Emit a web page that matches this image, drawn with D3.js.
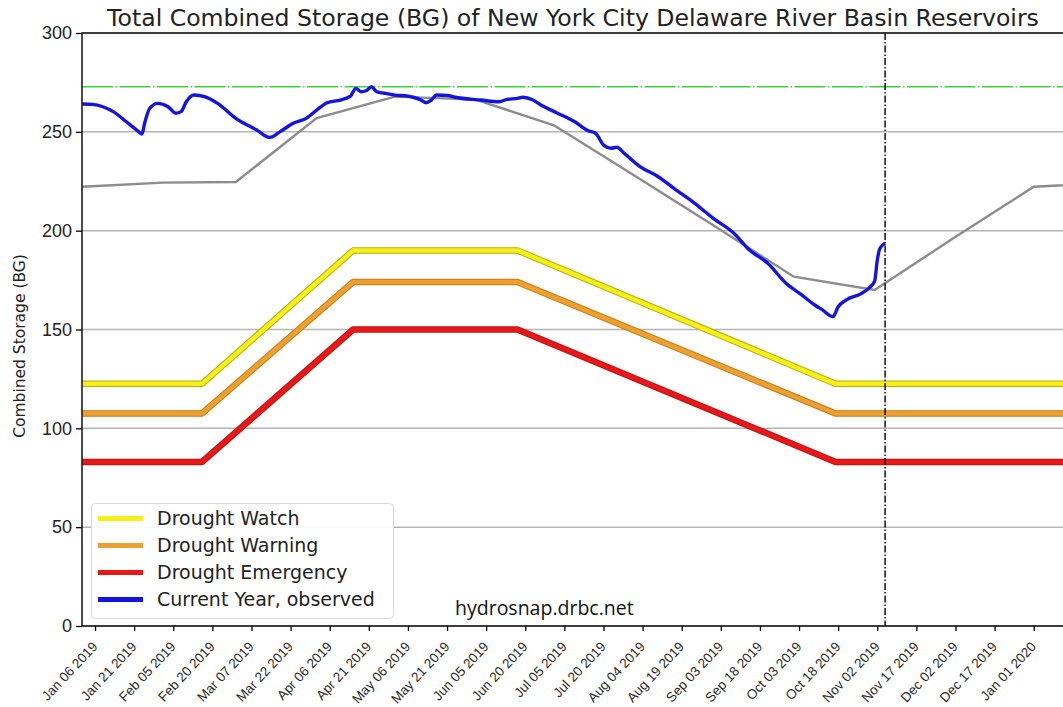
<!DOCTYPE html>
<html>
<head>
<meta charset="utf-8">
<script src="https://cdn.jsdelivr.net/npm/d3@7"></script>
<style>
  body { margin: 0; background: #fff; }
  svg { display: block; font-family: "DejaVu Sans", sans-serif; }
</style>
</head>
<body>
<div id="chart"></div>
<script>
// observed combined storage
var observed = [
  ["2019-01-01",264.1],["2019-01-05",263.9],["2019-01-09",262.7],["2019-01-13",260.2],
  ["2019-01-18",255.1],["2019-01-22",250.9],["2019-01-24",248.9],["2019-01-25",254.3],
  ["2019-01-27",261.9],["2019-01-30",264.4],["2019-02-03",262.7],["2019-02-06",259.4],
  ["2019-02-08",260.2],["2019-02-10",265.2],["2019-02-13",268.6],["2019-02-17",267.8],
  ["2019-02-22",264.4],["2019-03-01",256.8],["2019-03-09",250.9],["2019-03-14",247.2],
  ["2019-03-18",250.1],["2019-03-23",254.3],["2019-03-28",256.8],["2019-04-01",261.0],
  ["2019-04-05",264.7],["2019-04-10",266.1],["2019-04-14",268.1],["2019-04-16",272.0],
  ["2019-04-18",270.3],["2019-04-20",270.8],["2019-04-22",272.8],["2019-04-24",270.3],
  ["2019-04-27",269.5],["2019-05-01",268.6],["2019-05-06",268.1],["2019-05-08",267.5],
  ["2019-05-11",266.1],["2019-05-13",264.7],["2019-05-15",266.1],["2019-05-17",268.6],
  ["2019-05-21",268.4],["2019-05-24",267.5],["2019-06-03",266.1],["2019-06-10",265.2],
  ["2019-06-13",266.4],["2019-06-17",266.9],["2019-06-19",267.5],["2019-06-23",266.1],
  ["2019-06-26",263.6],["2019-07-02",259.7],["2019-07-09",255.1],["2019-07-14",250.6],
  ["2019-07-17",249.3],["2019-07-18",247.5],["2019-07-20",243.3],["2019-07-23",241.7],
  ["2019-07-25",242.2],["2019-07-28",239.1],["2019-08-03",232.4],["2019-08-10",227.3],
  ["2019-08-16",221.4],["2019-08-24",213.8],["2019-08-31",206.3],["2019-09-08",198.7],
  ["2019-09-14",190.2],["2019-09-21",183.5],["2019-09-28",173.4],["2019-10-04",167.5],
  ["2019-10-09",162.4],["2019-10-12",159.9],["2019-10-16",156.5],["2019-10-18",161.5],
  ["2019-10-21",164.9],["2019-10-27",168.3],["2019-10-30",171.2],["2019-11-01",174.5],
  ["2019-11-02",185.0],["2019-11-03",191.0],["2019-11-05",193.6]
];

// normal (median) storage, gray line
var normal = [
  ["2019-01-01",222.2],["2019-02-01",224.3],["2019-03-01",224.6],["2019-04-01",257.0],
  ["2019-05-01",267.8],["2019-06-01",266.3],["2019-07-01",253.3],["2019-08-01",227.8],
  ["2019-09-01",202.0],["2019-10-01",176.7],["2019-11-01",170.0],["2019-12-01",196.0],
  ["2020-01-01",222.2],["2020-02-01",224.3]
];

// drought rule curves
var watch     = [["2019-01-01",122.5],["2019-02-16",122.5],["2019-04-15",190],["2019-06-17",190],["2019-10-17",122.5],["2020-01-20",122.5]];
var warning   = [["2019-01-01",107.5],["2019-02-16",107.5],["2019-04-15",174],["2019-06-17",174],["2019-10-17",107.5],["2020-01-20",107.5]];
var emergency = [["2019-01-01",83],["2019-02-16",83],["2019-04-15",150],["2019-06-17",150],["2019-10-17",83],["2020-01-20",83]];

var capacity = 272.8;
var today = "2019-11-05";

var tickDates = ["2019-01-06","2019-01-21","2019-02-05","2019-02-20","2019-03-07","2019-03-22",
  "2019-04-06","2019-04-21","2019-05-06","2019-05-21","2019-06-05","2019-06-20","2019-07-05",
  "2019-07-20","2019-08-04","2019-08-19","2019-09-03","2019-09-18","2019-10-03","2019-10-18",
  "2019-11-02","2019-11-17","2019-12-02","2019-12-17","2020-01-01"];
var yTicks = [0, 50, 100, 150, 200, 250, 300];

var legendItems = [
  {name: "Drought Watch", color: "#f6f019"},
  {name: "Drought Warning", color: "#eca032"},
  {name: "Drought Emergency", color: "#e81818"},
  {name: "Current Year, observed", color: "#1414e0"}
];

(function() {
var W = 1063, H = 707;
var pl = 82, pt = 33, pb = 626, pr = 1065;
var parse = d3.timeParse("%Y-%m-%d");

var svg = d3.select("#chart").append("svg")
    .attr("width", W)
    .attr("height", H);

var x = d3.scaleTime()
    .domain([parse("2019-01-01"), parse("2020-01-13")])
    .range([pl, pr]);
var y = d3.scaleLinear()
    .domain([0, 300])
    .range([pb, pt]);

svg.append("clipPath").attr("id", "clip")
  .append("rect").attr("x", pl).attr("y", pt)
    .attr("width", pr - pl).attr("height", pb - pt);

// grid lines
svg.append("g")
  .selectAll("line")
  .data(yTicks)
  .join("line")
    .attr("x1", pl).attr("x2", pr)
    .attr("y1", d => y(d)).attr("y2", d => y(d))
    .attr("stroke", "#b4b4b4")
    .attr("stroke-width", 1.5);

var line = d3.line()
    .x(d => x(parse(d[0])))
    .y(d => y(d[1]));

var plot = svg.append("g").attr("clip-path", "url(#clip)");

// drought curves, darker edge under a lighter core
var curves = [[watch, "#b5ad10", "#f6f019"], [warning, "#c67a10", "#eca032"], [emergency, "#c01010", "#e81818"]];
curves.forEach(function(c) {
  plot.append("path").datum(c[0])
    .attr("d", line).attr("fill", "none")
    .attr("stroke", c[1]).attr("stroke-width", 6.5)
    .attr("stroke-linejoin", "round");
  plot.append("path").datum(c[0])
    .attr("d", line).attr("fill", "none")
    .attr("stroke", c[2]).attr("stroke-width", 4.5)
    .attr("stroke-linejoin", "round");
});

// capacity line
plot.append("line")
    .attr("x1", pl).attr("x2", pr)
    .attr("y1", y(capacity)).attr("y2", y(capacity))
    .attr("stroke", "#3ad23a")
    .attr("stroke-width", 1.6)
    .attr("stroke-dasharray", "31,2.5,1.5,2.5");

plot.append("path").datum(normal)
    .attr("d", line).attr("fill", "none")
    .attr("stroke", "#8c8c8c").attr("stroke-width", 2.4);

plot.append("path").datum(observed)
    .attr("d", d3.line().curve(d3.curveMonotoneX).x(d => x(parse(d[0]))).y(d => y(d[1])))
    .attr("fill", "none")
    .attr("stroke", "#1414e0").attr("stroke-width", 3.4)
    .attr("stroke-linejoin", "round");

// today marker
svg.append("line")
    .attr("x1", x(parse(today))).attr("x2", x(parse(today)))
    .attr("y1", pt).attr("y2", pb)
    .attr("stroke", "#111")
    .attr("stroke-width", 1.5)
    .attr("stroke-dasharray", "7,2,1.5,2");

// axes
var xAxis = d3.axisBottom(x)
    .tickValues(tickDates.map(parse))
    .tickFormat(d3.timeFormat("%b %d %Y"))
    .tickSize(5)
    .tickSizeOuter(0);
var gx = svg.append("g")
    .attr("transform", "translate(0," + pb + ")")
    .call(xAxis);
gx.select(".domain").remove();
gx.selectAll(".tick line").attr("stroke", "#000").attr("stroke-width", 1.3);
gx.selectAll(".tick text")
    .attr("font-size", 13.5)
    .attr("fill", "#2a2a2a")
    .attr("text-anchor", "end")
    .attr("transform", "translate(2,15) rotate(-47)")
    .attr("dy", "0.35em")
    .attr("y", 0)
    .attr("x", -4);

var yAxis = d3.axisLeft(y)
    .tickValues(yTicks)
    .tickSize(6)
    .tickPadding(4)
    .tickSizeOuter(0);
var gy = svg.append("g")
    .attr("transform", "translate(" + pl + ",0)")
    .call(yAxis);
gy.select(".domain").remove();
gy.selectAll(".tick line").attr("stroke", "#000").attr("stroke-width", 1.3);
gy.selectAll(".tick text").attr("font-size", 18).attr("fill", "#222");

// spines
svg.append("path")
    .attr("d", "M" + pr + "," + pt + "H" + pl + "V" + pb + "H" + pr)
    .attr("fill", "none")
    .attr("stroke", "#111")
    .attr("stroke-width", 1.5);

svg.append("text")
    .attr("x", (pl + 1062) / 2 + 1)
    .attr("y", 26)
    .attr("text-anchor", "middle")
    .attr("font-size", 23.6)
    .attr("fill", "#222")
    .text("Total Combined Storage (BG) of New York City Delaware River Basin Reservoirs");

svg.append("text")
    .attr("transform", "translate(25,346) rotate(-90)")
    .attr("text-anchor", "middle")
    .attr("font-size", 15.5)
    .attr("fill", "#222")
    .text("Combined Storage (BG)");

// legend
var lg = svg.append("g");
lg.append("rect")
    .attr("x", 91.5).attr("y", 503.5)
    .attr("width", 302).attr("height", 115)
    .attr("rx", 4)
    .attr("fill", "#fff").attr("fill-opacity", 0.9)
    .attr("stroke", "#d8d8d8");
lg.selectAll("g.item")
  .data(legendItems)
  .join("g")
    .attr("class", "item")
    .attr("transform", (d, i) => "translate(0," + (518.5 + i * 27) + ")")
    .each(function(d) {
      var g = d3.select(this);
      g.append("line")
        .attr("x1", 98).attr("x2", 143)
        .attr("stroke", d.color).attr("stroke-width", 5);
      g.append("text")
        .attr("x", 157).attr("dy", "0.36em")
        .attr("font-size", 19)
        .attr("fill", "#222")
        .text(d.name);
    });

svg.append("text")
    .attr("x", 455).attr("y", 615)
    .attr("font-family", "'Open Sans', 'Noto Sans', sans-serif")
    .attr("font-size", 19.5)
    .attr("fill", "#111")
    .text("hydrosnap.drbc.net");
})();
</script>
</body>
</html>
